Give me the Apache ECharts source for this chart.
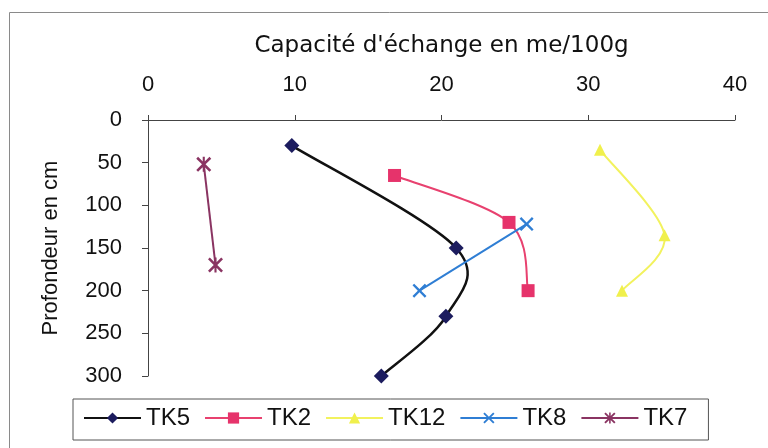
<!DOCTYPE html>
<html>
<head>
<meta charset="utf-8">
<script src="https://cdn.jsdelivr.net/npm/echarts@6/dist/echarts.min.js"></script>
<style>
html,body{margin:0;padding:0;background:#fff;}
#chart{width:768px;height:448px;}
</style>
</head>
<body>
<div id="chart"></div>
<script>
// Data: [capacité (me/100g), profondeur (cm)]
const seriesNames = ['TK5', 'TK2', 'TK12', 'TK8', 'TK7'];
const tk5 = [[9.8, 30], [21.0, 150], [20.3, 230], [15.9, 300]];
const tk2 = [[16.8, 65], [24.6, 120], [25.9, 200]];
const tk12 = [[30.8, 35], [35.2, 135], [32.3, 200]];
const tk8 = [[25.8, 122], [18.5, 200]];
const tk7 = [[3.8, 52], [4.6, 170]];
const xTicks = [0, 10, 20, 30, 40];
const yTicks = [0, 50, 100, 150, 200, 250, 300];

const FONT = 'Liberation Sans, Arial, sans-serif';
const xSym = 'path://M0,1.2L1.2,0L5,3.8L8.8,0L10,1.2L6.2,5L10,8.8L8.8,10L5,6.2L1.2,10L0,8.8L3.8,5Z';
const starSym = 'path://M0,1.2L1.2,0L5,3.8L8.8,0L10,1.2L6.2,5L10,8.8L8.8,10L5,6.2L1.2,10L0,8.8L3.8,5Z M4.3,0L5.7,0L5.7,10L4.3,10Z';

const chart = echarts.init(document.getElementById('chart'));

// Line series: markers (and straight line when not smoothed)
function mk(name, data, lineColor, symColor, symbol, size, lw, hideLine) {
  return {
    name: name, type: 'line', data: data,
    symbol: symbol, symbolSize: size,
    lineStyle: {color: lineColor, width: lw, opacity: hideLine ? 0 : 1},
    itemStyle: {color: symColor},
    z: 3
  };
}
// Spreadsheet-style smoothed line (Catmull-Rom), drawn through the axes' scales
function smoothLine(name, data, color, lw) {
  return {
    name: name + ' curve', type: 'custom', data: data,
    encode: {x: 0, y: 1}, z: 2, silent: true,
    renderItem: function (params, api) {
      const i = params.dataIndex;
      if (i >= data.length - 1) return null;
      const P = data.map(function (d) { return api.coord(d); });
      const p0 = P[Math.max(i - 1, 0)], p1 = P[i], p2 = P[i + 1], p3 = P[Math.min(i + 2, P.length - 1)];
      const t = 1 / 6;
      return {
        type: 'bezierCurve',
        shape: {
          x1: p1[0], y1: p1[1], x2: p2[0], y2: p2[1],
          cpx1: p1[0] + (p2[0] - p0[0]) * t, cpy1: p1[1] + (p2[1] - p0[1]) * t,
          cpx2: p2[0] - (p3[0] - p1[0]) * t, cpy2: p2[1] - (p3[1] - p1[1]) * t
        },
        style: {stroke: color, lineWidth: lw, fill: null}
      };
    }
  };
}

chart.setOption({
  animation: false,
  textStyle: {fontFamily: FONT},
  graphic: [{
    type: 'rect', shape: {x: 9.5, y: 12.5, width: 800, height: 500},
    style: {fill: 'none', stroke: '#8a8a8a', lineWidth: 1}, silent: true
  }],
  grid: {left: 148, right: 33, top: 120, bottom: 72},
  legend: {
    data: seriesNames.map(function (n) { return {name: n, lineStyle: {opacity: 1}}; }),
    left: 73, top: 399,
    padding: [7, 21, 10, 10],
    itemWidth: 57, itemHeight: 14, itemGap: 14,
    borderColor: '#555', borderWidth: 1,
    textStyle: {fontSize: 24, color: '#111', fontFamily: FONT, padding: [0, 0, 0, 0]}
  },
  xAxis: {
    type: 'value', position: 'top', min: 0, max: 40, interval: 10,
    name: "Capacité d'échange en me/100g", nameLocation: 'middle', nameGap: 62,
    nameTextStyle: {fontSize: 23, color: '#111', fontFamily: 'DejaVu Sans, Liberation Sans, sans-serif'},
    axisLine: {show: true, lineStyle: {color: '#444', width: 1}},
    axisTick: {show: true, length: 5, lineStyle: {color: '#444'}},
    axisLabel: {fontSize: 22, color: '#111', margin: 24},
    splitLine: {show: false}
  },
  yAxis: {
    type: 'value', inverse: true, min: 0, max: 300, interval: 50,
    name: 'Profondeur en cm', nameLocation: 'middle', nameGap: 86, nameRotate: 90,
    nameTextStyle: {fontSize: 22, color: '#111', fontFamily: FONT},
    axisLine: {show: true, lineStyle: {color: '#444', width: 1}},
    axisTick: {show: true, length: 6, lineStyle: {color: '#444'}},
    axisLabel: {fontSize: 22, color: '#111', margin: 26},
    splitLine: {show: false}
  },
  series: [
    mk('TK5', tk5, '#111111', '#1c1c5e', 'diamond', 15, 2.5, true),
    mk('TK2', tk2, '#e8416f', '#e6336b', 'rect', 13, 2, true),
    mk('TK12', tk12, '#f2f25e', '#f0f04c', 'triangle', 12, 2, true),
    mk('TK8', tk8, '#2f7ed4', '#2f7ed4', xSym, 14, 2, false),
    mk('TK7', tk7, '#8a3462', '#8a3462', starSym, 15, 2, false),
    smoothLine('TK5', tk5, '#111111', 2.5),
    smoothLine('TK2', tk2, '#e8416f', 2),
    smoothLine('TK12', tk12, '#f2f25e', 2)
  ]
});
</script>
</body>
</html>
